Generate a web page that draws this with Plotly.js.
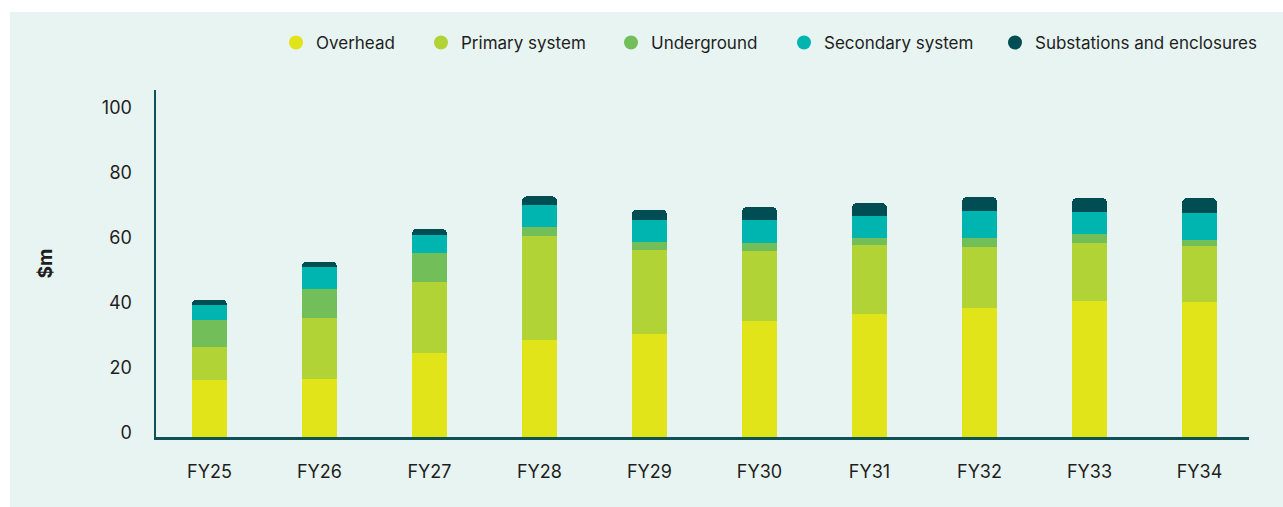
<!DOCTYPE html>
<html><head><meta charset="utf-8">
<script src="https://cdn.plot.ly/plotly-3.0.1.min.js"></script>
<style>
html,body{margin:0;padding:0;background:#ffffff;width:1283px;height:507px;overflow:hidden}
#chart{position:absolute;left:10px;top:12px;width:1273px;height:495px;}
</style>
</head><body><div id="chart"></div>
<script>
// ---- data ----
const years = ['FY25','FY26','FY27','FY28','FY29','FY30','FY31','FY32','FY33','FY34'];
const seriesNames = ['Overhead','Primary system','Underground','Secondary system','Substations and enclosures'];
const overhead    = [17.4, 18.0, 26.0, 30.0, 31.8, 35.8, 38.0, 39.8, 42.0, 41.7];
const primary     = [10.2, 18.5, 21.8, 32.0, 25.8, 21.5, 21.2, 18.8, 17.8, 17.2];
const underground = [ 8.3,  9.2,  8.9,  2.5,  2.5,  2.5,  2.2,  2.5,  2.8,  1.8];
const secondary   = [ 4.6,  6.5,  5.5,  6.8,  6.8,  7.1,  6.5,  8.6,  6.8,  8.3];
const substations = [ 1.8,  1.8,  1.9,  2.8,  3.1,  3.9,  4.1,  4.2,  4.2,  4.5];
const yTicks = [0, 20, 40, 60, 80, 100];

// ---- style ----
const colors = ['#e0e418','#b1d335','#72bf5a','#00b5b0','#004e54'];
const values = [overhead, primary, underground, secondary, substations];
const FONT = 'Inter, sans-serif';
const TXT = '#1e1e1e';
const AXIS = '#0e5156';
const BG = '#e8f4f1';

const L = 146, R = 34, T = 78, B = 70, W = 1273;
const plotW = W - L - R;
const legendCenters = [286, 431, 621, 794, 1005]; // px in div coords (circle centers)
const legendKeys = ['legend','legend2','legend3','legend4','legend5'];

const traces = [];
values.forEach((v, i) => {
  traces.push({
    type: 'bar', x: years, y: v, name: seriesNames[i],
    marker: {color: colors[i], line: {width: 0}},
    showlegend: false, hoverinfo: 'skip'
  });
});
values.forEach((v, i) => {
  traces.push({
    type: 'scatter', mode: 'markers', x: [null], y: [null], name: seriesNames[i],
    marker: {color: colors[i], size: 14, symbol: 'circle'},
    showlegend: true, legend: legendKeys[i], hoverinfo: 'skip'
  });
});

const layout = {
  width: W, height: 495,
  margin: {l: L, r: R, t: T, b: B, pad: 0},
  paper_bgcolor: BG, plot_bgcolor: BG,
  barmode: 'stack', bargap: 0.682, barcornerradius: 5,
  font: {family: FONT, size: 16, color: TXT},
  xaxis: {
    type: 'category', range: [-0.486, 9.45],
    showline: true, linecolor: AXIS, linewidth: 3,
    showgrid: false, zeroline: false, ticks: '',
    ticklabelstandoff: 16,
    tickfont: {family: FONT, size: 18, color: TXT}, fixedrange: true
  },
  yaxis: {
    range: [0, 106.8], tickvals: yTicks,
    showline: true, linecolor: AXIS, linewidth: 2.5,
    showgrid: false, zeroline: false, ticks: '',
    ticklabelstandoff: 18, ticklabelshift: -4,
    tickfont: {family: FONT, size: 18, color: TXT},
    title: {text: '<b>$m</b>', standoff: 44, font: {family: FONT, size: 19, color: TXT}},
    fixedrange: true
  },
  showlegend: true
};
legendKeys.forEach((k, i) => {
  layout[k] = {
    orientation: 'h', x: (legendCenters[i] - 20 - L) / plotW, xanchor: 'left',
    y: (425 - 31) / 347, yanchor: 'middle',
    bgcolor: 'rgba(0,0,0,0)', borderwidth: 0,
    font: {family: FONT, size: 17, color: TXT}, itemclick: false, itemdoubleclick: false
  };
});

Plotly.newPlot('chart', traces, layout, {displayModeBar: false, staticPlot: true});
</script>
</body></html>
